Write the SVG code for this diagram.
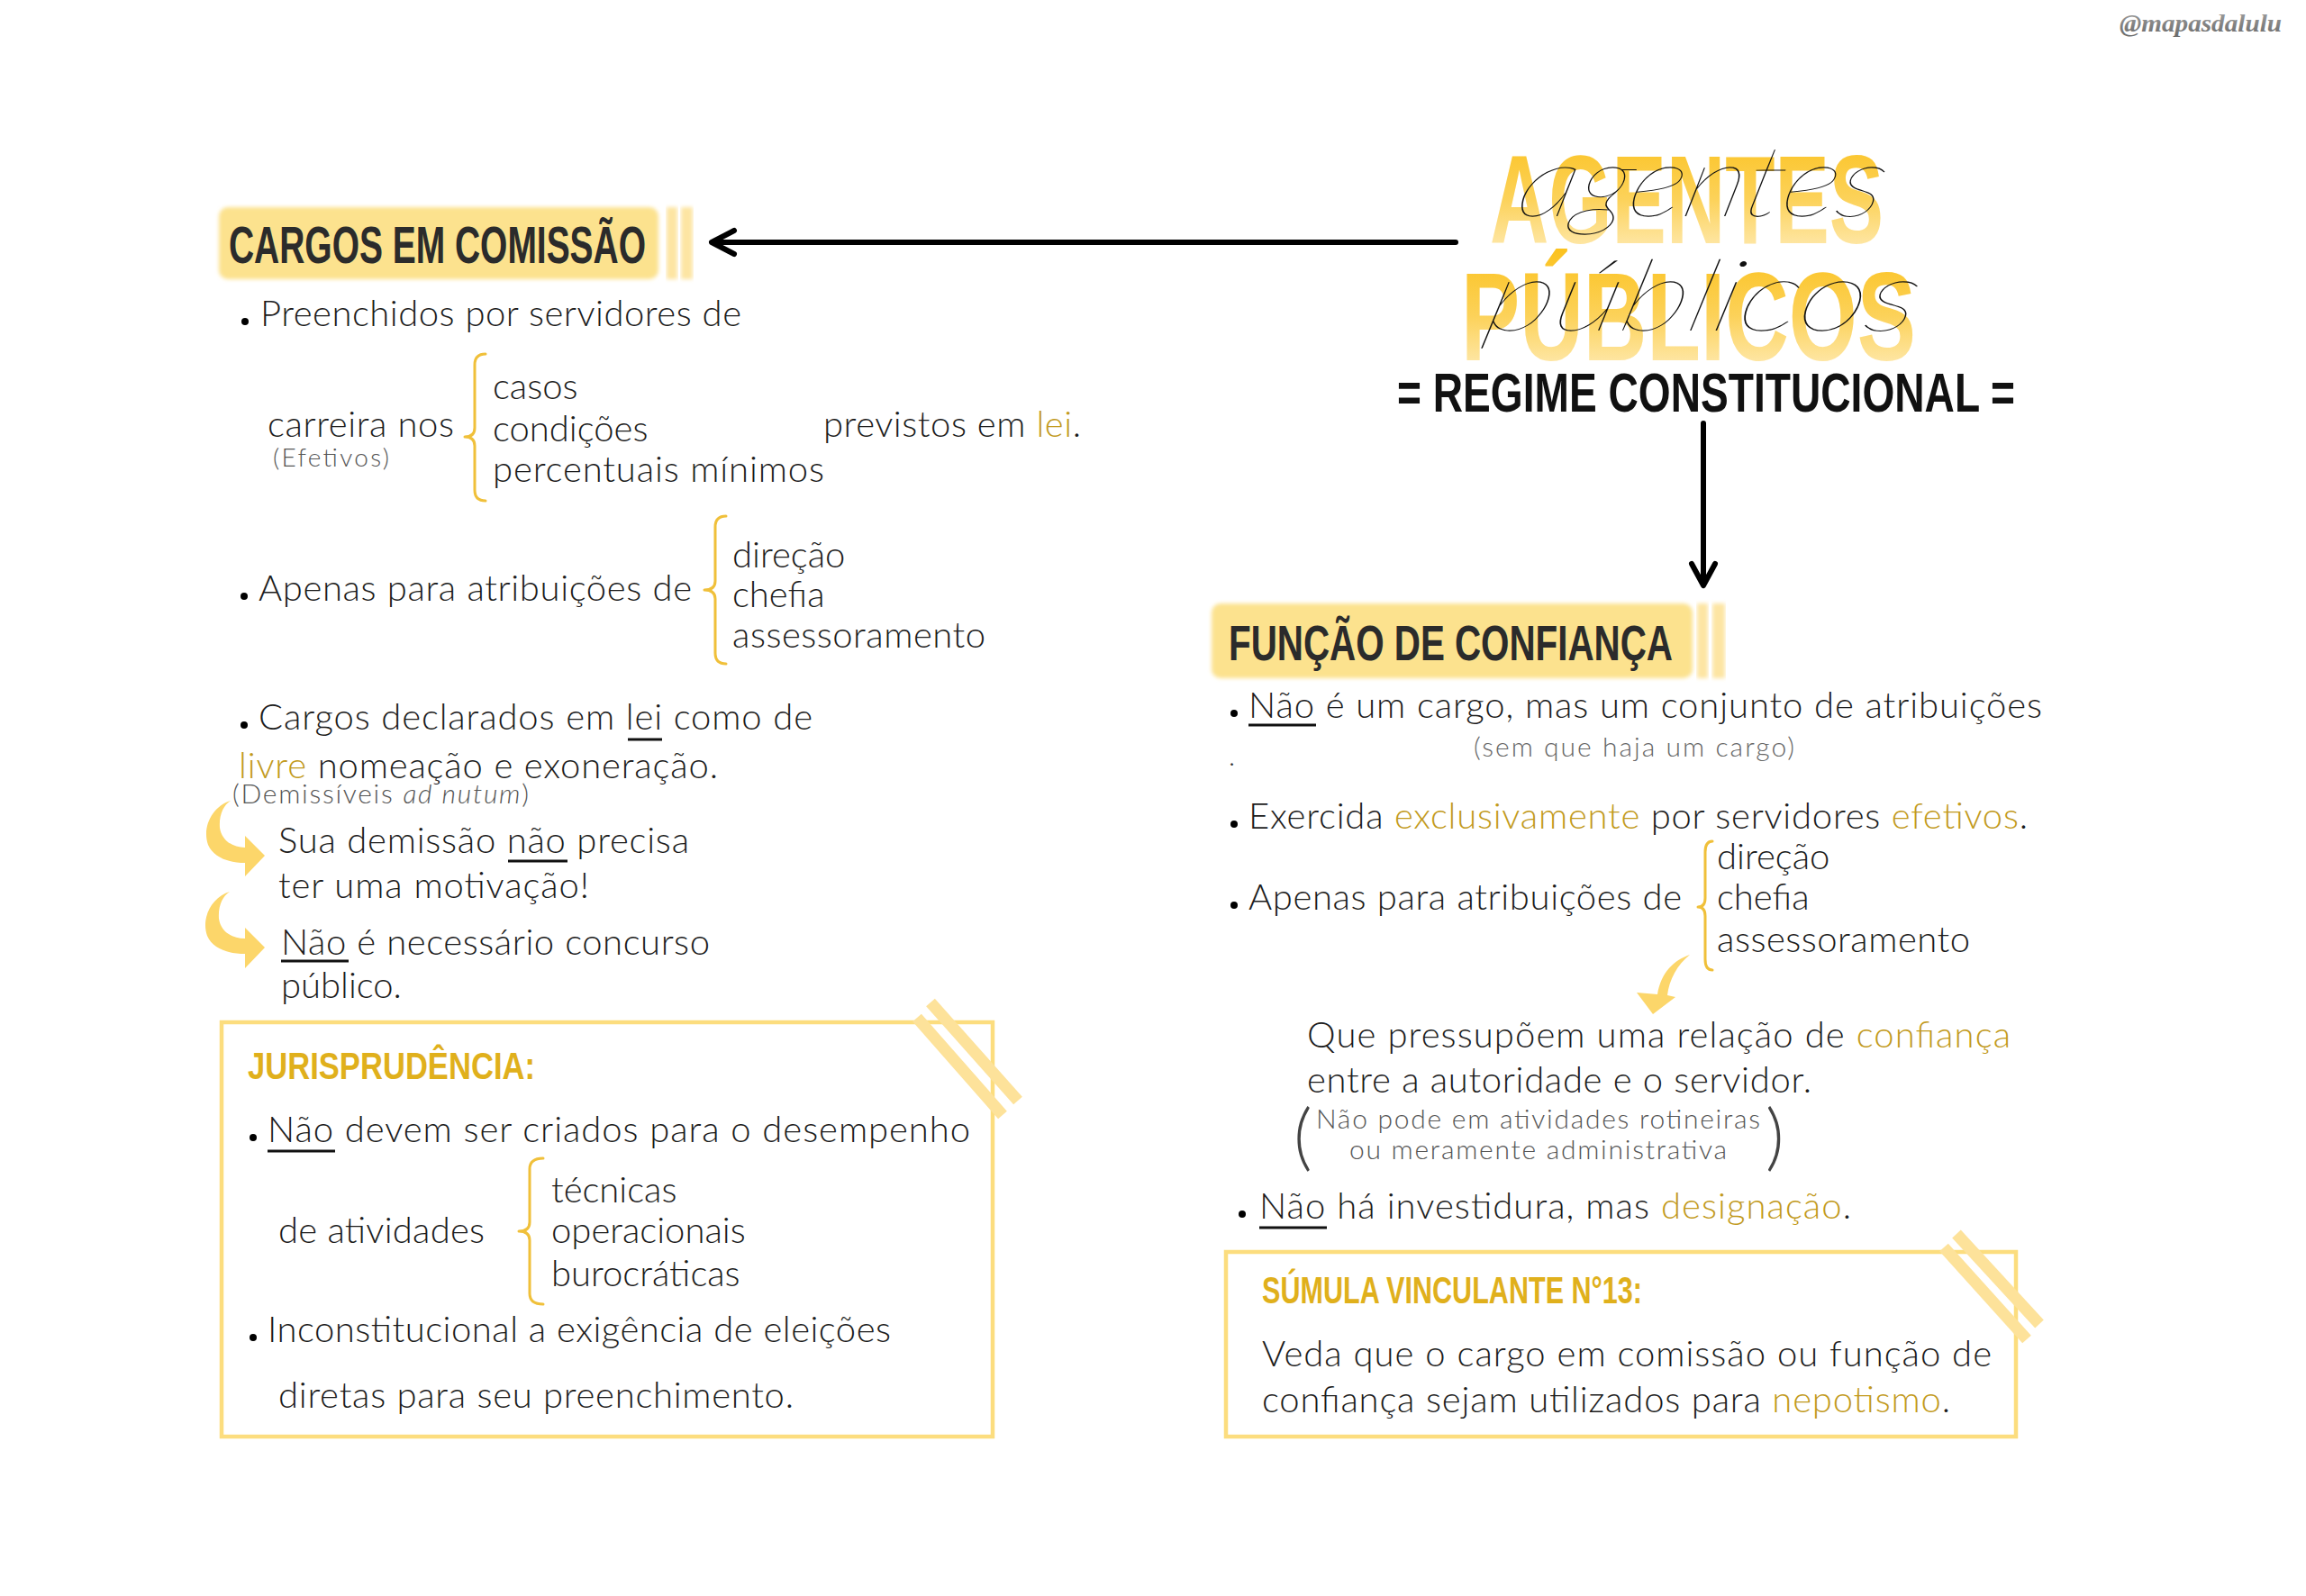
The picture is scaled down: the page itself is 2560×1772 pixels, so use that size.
<svg xmlns="http://www.w3.org/2000/svg" width="2560" height="1772" viewBox="0 0 2560 1772">
<defs>
<style>
.t{font-family:Lato,"Open Sans","Noto Sans",sans-serif;font-weight:300;font-size:40px;fill:#1c1c1c}
.g{fill:#C29A1C}
.s{font-family:Lato,"Open Sans","Noto Sans",sans-serif;font-weight:300;font-size:30px;fill:#555}
.h{font-family:"Liberation Sans",Arial,sans-serif;font-weight:700;fill:#2b2b2b}
.gh{font-family:"Liberation Sans",Arial,sans-serif;font-weight:700;fill:#E0B01C}
.br{fill:none;stroke:#F0C03A;stroke-width:3;stroke-linecap:round;stroke-linejoin:round}
.ul{stroke:#111;stroke-width:3}
.bx{fill:none;stroke:#FCDD7E;stroke-width:4.5}
.tape{stroke:#FDE29A;stroke-width:13}
.hb{fill:#FCE28E;filter:url(#soft)}
.bar{fill:#FDE5A3;filter:url(#soft)}
.ya{fill:#FCD66A}
.ar{fill:none;stroke:#000;stroke-width:6;stroke-linecap:round;stroke-linejoin:round}
.sc{font-family:Lato,"Liberation Serif",serif;font-style:italic;font-weight:200;fill:#111}
.big{font-family:"Liberation Sans",Arial,sans-serif;font-weight:700;font-size:140px;fill:url(#yg)}
</style>
<filter id="soft" x="-5%" y="-10%" width="110%" height="120%"><feGaussianBlur stdDeviation="2"/></filter>
<linearGradient id="yg" x1="0" y1="0" x2="0" y2="1">
<stop offset="0" stop-color="#FBC11C"/>
<stop offset="0.5" stop-color="#FCD25A"/>
<stop offset="1" stop-color="#FFF1CC"/>
</linearGradient>
<linearGradient id="wm" x1="0" y1="0" x2="0" y2="1">
<stop offset="0" stop-color="#a0a0a0"/>
<stop offset="1" stop-color="#6a6a6a"/>
</linearGradient>
</defs>
<rect width="2560" height="1772" fill="#fff"/>

<text x="2353" y="35" textLength="180" lengthAdjust="spacingAndGlyphs" style="font-family:'Liberation Serif',serif;font-style:italic;font-weight:700;font-size:27px;fill:url(#wm)">@mapasdalulu</text>

<g id="title">
<text x="1654" y="270" class="big" textLength="437" lengthAdjust="spacingAndGlyphs">AGENTES</text>
<text x="1622" y="400" class="big" textLength="505" lengthAdjust="spacingAndGlyphs">PÚBLICOS</text>
<text transform="translate(1680,240) skewX(-14)" x="0" y="0" class="sc" style="font-size:110px" textLength="406" lengthAdjust="spacingAndGlyphs">agentes</text>
<text transform="translate(1645,367) skewX(-14)" x="0" y="0" class="sc" style="font-size:110px" textLength="478" lengthAdjust="spacingAndGlyphs">públicos</text>
<text x="1551" y="457" class="h" style="font-size:61px;fill:#111" textLength="686" lengthAdjust="spacingAndGlyphs">= REGIME CONSTITUCIONAL =</text>
</g>

<g id="connectors">
<line class="ar" x1="1616" y1="269" x2="792" y2="269"/>
<polyline class="ar" points="815,256 790,269 815,282"/>
<line class="ar" x1="1891" y1="470" x2="1891" y2="648"/>
<polyline class="ar" points="1878,626 1891,650 1904,626"/>
<path class="ya" d="M256,889 C236,895 224,918 231,938 C237,952 254,958 272,958 L272,973 L294,950 L272,928 L272,941 C258,941 246,933 244,919 C243,905 248,894 256,889 Z"/>
<path class="ya" d="M255,990 C235,996 223,1019 230,1039 C236,1053 253,1059 272,1059 L272,1075 L294,1052 L272,1030 L272,1042 C257,1042 245,1034 243,1020 C242,1006 247,995 255,990 Z"/>
<path class="ya" d="M1876,1060 C1858,1066 1844,1080 1840,1104 L1817,1102 L1835,1126 L1860,1107 L1851,1105 C1853,1088 1862,1071 1876,1060 Z"/>
</g>

<g id="cargos-header">
<rect class="hb" x="243" y="230" width="488" height="80" rx="10"/>
<rect class="bar" x="740" y="230" width="12" height="80"/>
<rect class="bar" x="756" y="230" width="13" height="80"/>
<text x="254" y="292" class="h" style="font-size:58px" textLength="463" lengthAdjust="spacingAndGlyphs">CARGOS EM COMISSÃO</text>
</g>

<g id="cargos-preenchidos">
<circle cx="272" cy="357" r="4"/>
<text x="289" y="362" class="t" textLength="534">Preenchidos por servidores de</text>
<text x="297" y="485" class="t" textLength="207">carreira nos</text>
<text x="303" y="518" class="s" style="font-size:28px" textLength="129">(Efetivos)</text>
<path class="br" d="M539,393 Q527,393 527,405 L527,475 Q527,485 516,485 Q527,485 527,495 L527,544 Q527,556 539,556"/>
<text x="547" y="443" class="t">casos</text>
<text x="547" y="490" class="t">condições</text>
<text x="547" y="535" class="t" textLength="368">percentuais mínimos</text>
<text x="914" y="485" class="t" textLength="286">previstos em <tspan class="g">lei</tspan>.</text>
</g>

<g id="cargos-atribuicoes">
<circle cx="271" cy="662" r="4"/>
<text x="287" y="667" class="t" textLength="481">Apenas para atribuições de</text>
<path class="br" d="M806,573 Q794,573 794,585 L794,645 Q794,655 782,655 Q794,655 794,665 L794,725 Q794,737 806,737"/>
<text x="813" y="630" class="t">direção</text>
<text x="813" y="674" class="t">chefia</text>
<text x="813" y="719" class="t" textLength="281">assessoramento</text>
</g>

<g id="cargos-livre">
<circle cx="271" cy="805" r="4"/>
<text x="287" y="810" class="t" textLength="615">Cargos declarados em lei como de</text>
<line class="ul" x1="697" y1="821" x2="735" y2="821"/>
<text x="265" y="864" class="t" textLength="532"><tspan class="g">livre</tspan> nomeação e exoneração.</text>
<text x="258" y="892" class="s" textLength="329">(Demissíveis <tspan font-style="italic">ad nutum</tspan>)</text>
<text x="309" y="947" class="t" textLength="456">Sua demissão não precisa</text>
<line class="ul" x1="564" y1="956" x2="630" y2="956"/>
<text x="309" y="997" class="t" textLength="345">ter uma motivação!</text>
<text x="312" y="1060" class="t" textLength="476">Não é necessário concurso</text>
<line class="ul" x1="312" y1="1067" x2="387" y2="1067"/>
<text x="312" y="1108" class="t">público.</text>
</g>

<g id="jurisprudencia">
<rect class="bx" x="246" y="1135" width="856" height="460"/>
<line class="tape" x1="1033" y1="1113" x2="1130" y2="1222"/>
<line class="tape" x1="1018" y1="1130" x2="1113" y2="1238"/>
<text x="275" y="1198" class="gh" style="font-size:42px" textLength="319" lengthAdjust="spacingAndGlyphs">JURISPRUDÊNCIA:</text>
<circle cx="281" cy="1263" r="4"/>
<text x="297" y="1268" class="t" textLength="780">Não devem ser criados para o desempenho</text>
<line class="ul" x1="297" y1="1278" x2="372" y2="1278"/>
<text x="309" y="1380" class="t" textLength="229">de atividades</text>
<path class="br" d="M603,1286 Q588,1286 588,1298 L588,1357 Q588,1367 576,1367 Q588,1367 588,1377 L588,1436 Q588,1448 603,1448"/>
<text x="612" y="1335" class="t">técnicas</text>
<text x="612" y="1380" class="t">operacionais</text>
<text x="612" y="1428" class="t">burocráticas</text>
<circle cx="281" cy="1485" r="4"/>
<text x="297" y="1490" class="t" textLength="692">Inconstitucional a exigência de eleições</text>
<text x="309" y="1563" class="t" textLength="572">diretas para seu preenchimento.</text>
</g>

<g id="funcao-header">
<rect class="hb" x="1345" y="670" width="534" height="83" rx="10"/>
<rect class="bar" x="1884" y="670" width="12" height="83"/>
<rect class="bar" x="1901" y="670" width="14" height="83"/>
<text x="1364" y="733" class="h" style="font-size:56px" textLength="493" lengthAdjust="spacingAndGlyphs">FUNÇÃO DE CONFIANÇA</text>
</g>

<g id="funcao-itens">
<circle cx="1370" cy="792" r="4"/>
<text x="1386" y="797" class="t" textLength="881">Não é um cargo, mas um conjunto de atribuições</text>
<line class="ul" x1="1386" y1="805" x2="1461" y2="805"/>
<text x="1364" y="850" class="s" style="fill:#333">.</text>
<text x="1636" y="840" class="s" style="fill:#666" textLength="356">(sem que haja um cargo)</text>
<circle cx="1370" cy="915" r="4"/>
<text x="1386" y="920" class="t" textLength="865">Exercida <tspan class="g">exclusivamente</tspan> por servidores <tspan class="g">efetivos</tspan>.</text>
<circle cx="1370" cy="1005" r="4"/>
<text x="1386" y="1010" class="t" textLength="481">Apenas para atribuições de</text>
<path class="br" d="M1901,934 Q1893,934 1893,946 L1893,997 Q1893,1007 1885,1007 Q1893,1007 1893,1017 L1893,1065 Q1893,1077 1901,1077"/>
<text x="1906" y="965" class="t">direção</text>
<text x="1906" y="1010" class="t">chefia</text>
<text x="1906" y="1057" class="t" textLength="281">assessoramento</text>
<text x="1451" y="1163" class="t" textLength="781">Que pressupõem uma relação de <tspan class="g">confiança</tspan></text>
<text x="1451" y="1213" class="t" textLength="560">entre a autoridade e o servidor.</text>
<text x="1436" y="1290" class="s" style="font-size:80px;fill:#444">(</text>
<text x="1960" y="1290" class="s" style="font-size:80px;fill:#444">)</text>
<text x="1461" y="1253" class="s" textLength="493">Não pode em atividades rotineiras</text>
<text x="1498" y="1287" class="s" textLength="419">ou meramente administrativa</text>
<circle cx="1379" cy="1348" r="4"/>
<text x="1398" y="1353" class="t" textLength="657">Não há investidura, mas <tspan class="g">designação</tspan>.</text>
<line class="ul" x1="1398" y1="1363" x2="1473" y2="1363"/>
</g>

<g id="sumula">
<rect class="bx" x="1361" y="1390" width="877" height="205"/>
<line class="tape" x1="2172" y1="1370" x2="2264" y2="1470"/>
<line class="tape" x1="2158" y1="1385" x2="2250" y2="1487"/>
<text x="1401" y="1447" class="gh" style="font-size:42px" textLength="422" lengthAdjust="spacingAndGlyphs">SÚMULA VINCULANTE N°13:</text>
<text x="1401" y="1517" class="t" textLength="810">Veda que o cargo em comissão ou função de</text>
<text x="1401" y="1568" class="t" textLength="764">confiança sejam utilizados para <tspan class="g">nepotismo</tspan>.</text>
</g>
</svg>
